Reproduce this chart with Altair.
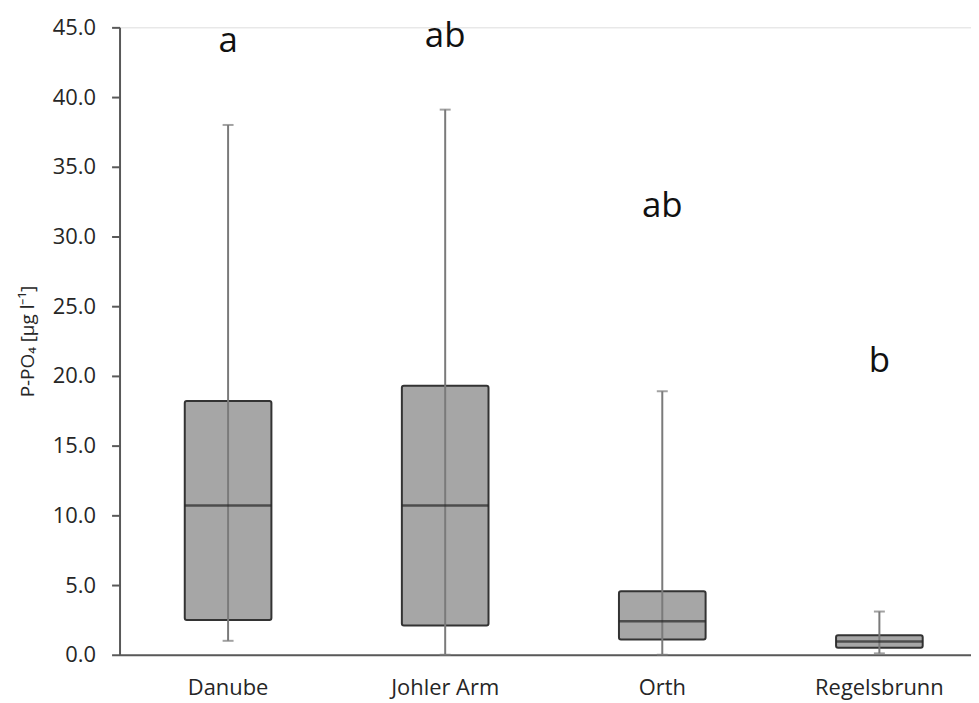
import altair as alt
import pandas as pd

sites = ["Danube", "Johler Arm", "Orth", "Regelsbrunn"]
w_low = [1.0, 0.0, 0.0, 0.1]
q1 = [2.5, 2.1, 1.1, 0.5]
median = [10.7, 10.7, 2.4, 0.95]
q3 = [18.2, 19.3, 4.55, 1.4]
w_high = [38.0, 39.1, 18.9, 3.1]
letters = ["a", "ab", "ab", "b"]
letter_y = [44.0, 44.4, 32.2, 21.1]

df = pd.DataFrame({
    "site": sites, "lo": w_low, "q1": q1, "med": median, "q3": q3,
    "hi": w_high, "letter": letters, "ly": letter_y,
})

FONT = "Open Sans"
TXT = "#262626"
x = alt.X("site:N", sort=sites, title=None,
          scale=alt.Scale(range=[0, 872], paddingInner=0, paddingOuter=0),
          axis=alt.Axis(labelAngle=0, ticks=False, labelFontSize=22, labelFont=FONT,
                        labelColor=TXT, labelPadding=23, domainColor="#595959",
                        domainWidth=2))
yscale = alt.Scale(domain=[0, 45], nice=False)
y_axis = alt.Axis(values=list(range(0, 50, 5)), format=".1f", title="P-PO₄ [µg l⁻¹]",
                  titleFontSize=19, titleFont=FONT, titleFontWeight="normal",
                  titleColor=TXT, titlePadding=15,
                  labelFontSize=22, labelFont=FONT, labelColor=TXT, labelPadding=16,
                  domainColor="#595959", domainWidth=2, tickColor="#595959",
                  tickWidth=2, tickSize=8, grid=False)

base = alt.Chart(df)

box = base.mark_bar(size=87, color="#a6a6a6", stroke="#333333", strokeWidth=2,
                    cornerRadius=2).encode(
    x=x, y=alt.Y("q1:Q", scale=yscale, axis=y_axis), y2="q3:Q")

med = base.mark_tick(size=87, thickness=2.5, color="#262626").encode(
    x=x, y=alt.Y("med:Q", scale=yscale))

whisk = base.mark_rule(color="#7a7a7a", strokeWidth=2).encode(
    x=x, y=alt.Y("lo:Q", scale=yscale), y2="hi:Q")

cap_hi = base.mark_tick(size=11, thickness=2, color="#7a7a7a").encode(
    x=x, y=alt.Y("hi:Q", scale=yscale))
cap_lo = base.mark_tick(size=11, thickness=2, color="#7a7a7a").encode(
    x=x, y=alt.Y("lo:Q", scale=yscale))

txt = base.mark_text(fontSize=35, font=FONT, color="#111111", baseline="middle").encode(
    x=x, y=alt.Y("ly:Q", scale=yscale), text="letter:N")

chart = alt.layer(box, whisk, med, cap_hi, cap_lo, txt).properties(
    width=855, height=630,
    autosize=alt.AutoSizeParams(type="none"),
    padding={"left": 112, "top": 18, "right": 0, "bottom": 46},
).configure_view(stroke=None).configure(background="white")

chart.save("out.html", embed_options={"renderer": "svg", "actions": False})
